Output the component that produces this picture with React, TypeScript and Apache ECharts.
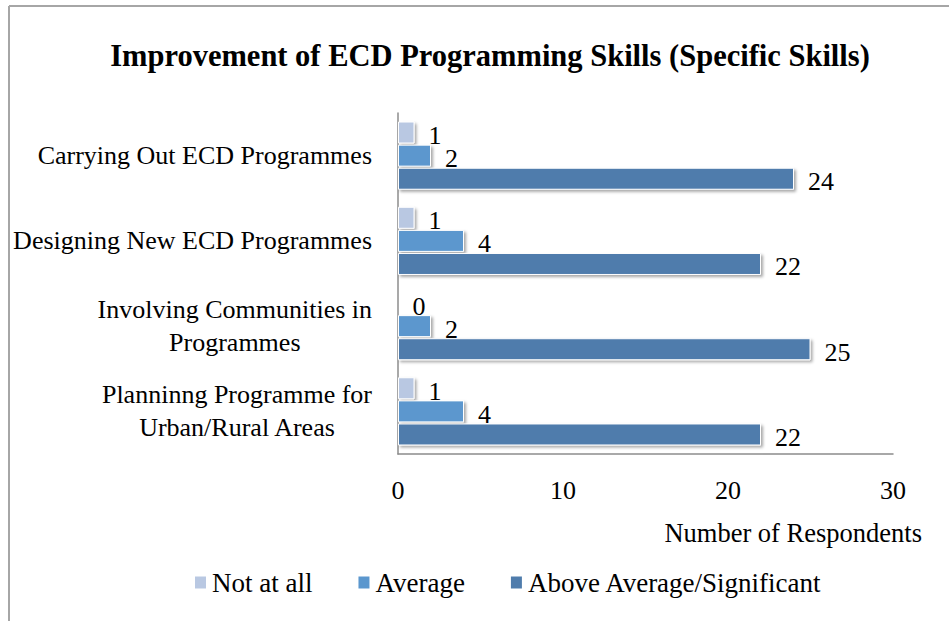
import React, { useEffect, useRef } from "react";
import * as echarts from "echarts";

const categories = [
  "Carrying Out ECD Programmes",
  "Designing New ECD Programmes",
  "Involving Communities in\nProgrammes",
  "Planninng Programme for\nUrban/Rural Areas",
];
const notAtAll = [1, 1, 0, 1];
const average = [2, 4, 2, 4];
const aboveAverage = [24, 22, 25, 22];
const seriesNames = ["Not at all", "Average", "Above Average/Significant"];
const xTicks = [0, 10, 20, 30];

const FONT = "'Liberation Serif', 'Times New Roman', serif";

export default function App() {
  const ref = useRef<HTMLDivElement>(null);
  useEffect(() => {
    document.body.style.margin = "0";
    const chart = echarts.init(ref.current!, null, { renderer: "svg" });
    const barStyle = (color: string) => ({
      color,
      borderColor: "#ffffff",
      borderWidth: 1,
      shadowColor: "rgba(0,0,0,0.35)",
      shadowBlur: 3,
      shadowOffsetX: 2,
      shadowOffsetY: 2,
    });
    const label = {
      show: true,
      position: "right" as const,
      distance: 14,
      offset: [0, 3],
      color: "#000",
      fontFamily: FONT,
      fontSize: 26,
    };
    const colors = ["#B9C8E2", "#5B97CE", "#4F7CAC"];
    const datas = [notAtAll, average, aboveAverage];
    chart.setOption({
      animation: false,
      backgroundColor: "#ffffff",
      title: {
        text: "Improvement of ECD Programming Skills (Specific Skills)",
        left: 485,
        textAlign: "center",
        top: 35,
        textStyle: {
          fontFamily: FONT,
          fontWeight: "bold",
          fontSize: 30.5,
          color: "#000",
        },
      },
      graphic: [
        {
          type: "line",
          shape: { x1: 9, y1: 6, x2: 949, y2: 6 },
          style: { stroke: "#a6a6a6", lineWidth: 2 },
        },
        {
          type: "line",
          shape: { x1: 9, y1: 6, x2: 9, y2: 621 },
          style: { stroke: "#a6a6a6", lineWidth: 2 },
        },
      ],
      legend: {
        left: 188,
        top: 564,
        itemWidth: 13,
        itemHeight: 14,
        itemGap: 44,
        icon: "rect",
        textStyle: { fontFamily: FONT, fontSize: 27, color: "#000" },
        data: seriesNames,
      },
      grid: { left: 398, right: 56, top: 113, bottom: 167, containLabel: false },
      xAxis: {
        type: "value",
        min: 0,
        max: 30,
        interval: 10,
        name: "Number of Respondents",
        nameLocation: "end",
        nameGap: 29,
        nameTextStyle: {
          fontFamily: FONT,
          fontSize: 26.5,
          color: "#000",
          align: "right",
          verticalAlign: "top",
          padding: [65, 0, 0, 0],
        },
        axisLine: { show: true, lineStyle: { color: "#8c8c8c", width: 1.5 } },
        axisTick: { show: false },
        splitLine: { show: false },
        axisLabel: {
          margin: 23,
          fontFamily: FONT,
          fontSize: 26,
          color: "#000",
          formatter: (v: number) => (xTicks.includes(v) ? String(v) : ""),
        },
      },
      yAxis: {
        type: "category",
        inverse: true,
        data: categories,
        axisLine: { show: true, lineStyle: { color: "#8c8c8c", width: 1.5 } },
        axisTick: { show: false },
        axisLabel: {
          margin: 26,
          fontFamily: FONT,
          fontSize: 26,
          color: "#000",
          lineHeight: 33,
          formatter: (v: string) =>
            v
              .split("\n")
              .map((s) => `{c|${s}}`)
              .join("\n"),
          rich: {
            c: {
              align: "center",
              fontFamily: FONT,
              fontSize: 26,
              color: "#000",
              lineHeight: 33,
            },
          },
        },
      },
      series: datas.map((d, i) => ({
        name: seriesNames[i],
        type: "bar",
        data: d,
        barWidth: 22,
        barGap: "5%",
        barCategoryGap: "20%",
        itemStyle: barStyle(colors[i]),
        label,
      })),
    });
    return () => chart.dispose();
  }, []);
  return <div ref={ref} style={{ width: 949, height: 621 }} />;
}
